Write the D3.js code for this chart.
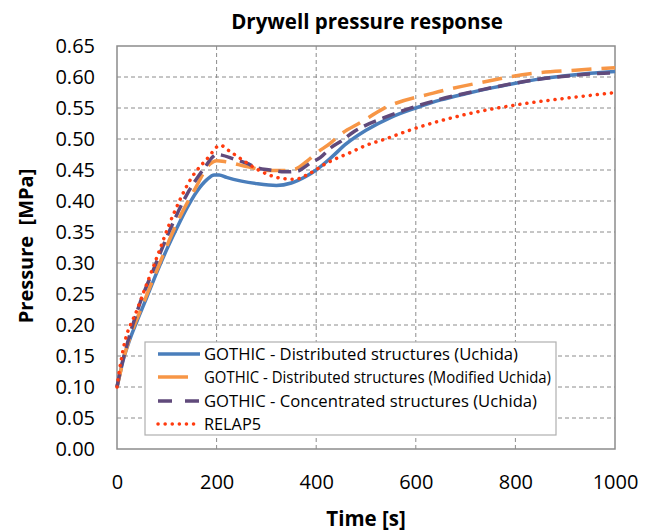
<!DOCTYPE html>
<html><head><meta charset="utf-8">
<script src="https://cdn.jsdelivr.net/npm/d3@7"></script>
<style>
body{margin:0;background:#fff;}
text{font-family:"Open Sans","Liberation Sans",sans-serif;fill:#000;}
</style></head>
<body><svg id="c" width="653" height="532"></svg>
<script>
const xTicks=[0,200,400,600,800,1000];
const yTicks=[0,0.05,0.10,0.15,0.20,0.25,0.30,0.35,0.40,0.45,0.50,0.55,0.60,0.65];
const seriesNames=["GOTHIC - Distributed structures (Uchida)","GOTHIC - Distributed structures (Modified Uchida)","GOTHIC - Concentrated structures (Uchida)","RELAP5"];
const blueT=[0,5,13,25,40,60,80,100,120,140,160,180,195,205,220,250,280,320,350,380,400,430,460,500,550,600,650,700,750,800,850,900,950,1000];
const blueP=[0.100,0.118,0.145,0.175,0.206,0.245,0.285,0.322,0.356,0.388,0.415,0.434,0.442,0.442,0.438,0.432,0.428,0.425,0.429,0.440,0.450,0.470,0.492,0.514,0.535,0.550,0.563,0.573,0.582,0.590,0.597,0.602,0.606,0.609];
const orangeT=[0,5,13,26,53,86,120,157,187,200,220,263,310,340,357,381,400,428,448,490,535,635,736,836,920,1000];
const orangeP=[0.100,0.117,0.145,0.180,0.235,0.300,0.364,0.420,0.460,0.465,0.463,0.455,0.449,0.449,0.451,0.464,0.477,0.493,0.507,0.527,0.549,0.574,0.592,0.606,0.611,0.615];
const purpleT=[0,5,19,46,73,106,140,177,192,200,210,234,260,283,307,337,361,388,408,431,451,474,494,535,635,736,836,936,1000];
const purpleP=[0.100,0.120,0.165,0.235,0.289,0.353,0.410,0.455,0.471,0.475,0.474,0.468,0.461,0.453,0.450,0.447,0.448,0.461,0.470,0.487,0.497,0.511,0.520,0.534,0.561,0.580,0.595,0.604,0.607];
const redT=[0,3,13,40,73,113,147,187,200,207,225,247,284,327,357,388,421,468,501,535,602,702,802,903,990,1000];
const redP=[0.100,0.117,0.163,0.224,0.294,0.378,0.434,0.474,0.487,0.490,0.481,0.469,0.450,0.437,0.435,0.445,0.461,0.478,0.490,0.499,0.518,0.540,0.555,0.566,0.574,0.575];

const svg=d3.select("#c");
const L=117,R=615,T=46,B=449;
const x=d3.scaleLinear().domain([0,1000]).range([L,R]);
const y=d3.scaleLinear().domain([0,0.65]).range([B,T]);

// grid
svg.append("g").selectAll("line").data(yTicks.slice(1,-1)).join("line")
 .attr("x1",L).attr("x2",R).attr("y1",d=>y(d)).attr("y2",d=>y(d))
 .attr("stroke","#8c8c8c").attr("stroke-width",1).attr("stroke-dasharray","4,3");
svg.append("g").selectAll("line").data(xTicks.slice(1,-1)).join("line")
 .attr("y1",T).attr("y2",B).attr("x1",d=>x(d)).attr("x2",d=>x(d))
 .attr("stroke","#8c8c8c").attr("stroke-width",1).attr("stroke-dasharray","4,3");
svg.append("rect").attr("x",L).attr("y",T).attr("width",R-L).attr("height",B-T)
 .attr("fill","none").attr("stroke","#8c8c8c").attr("stroke-width",1.5);

// axes labels via d3 axes
const yAx=svg.append("g").attr("transform",`translate(${L},0)`)
 .call(d3.axisLeft(y).tickValues(yTicks).tickFormat(d3.format(".2f")).tickSize(0).tickPadding(22));
const xAx=svg.append("g").attr("transform",`translate(0,${B})`)
 .call(d3.axisBottom(x).tickValues(xTicks).tickFormat(d3.format("d")).tickSize(0).tickPadding(26));
[yAx,xAx].forEach(g=>{g.select(".domain").remove();g.selectAll("text").attr("font-size",20).attr("font-family","'Open Sans',sans-serif").attr("fill","#000");});

const line=d3.line().x(d=>x(d[0])).y(d=>y(d[1])).curve(d3.curveMonotoneX);
const zip=(a,b)=>a.map((v,i)=>[v,b[i]]);
const styles=[
 {c:"#4a7ebb",w:3.5,dash:null,cap:"butt"},
 {c:"#f79646",w:3.5,dash:"20,10",cap:"butt"},
 {c:"#604a7b",w:3.5,dash:"13,7",cap:"butt"},
 {c:"#ff3b0f",w:3.5,dash:"0.1,7",cap:"round"}];
const data=[zip(blueT,blueP),zip(orangeT,orangeP),zip(purpleT,purpleP),zip(redT,redP)];
data.forEach((d,i)=>{
 svg.append("path").attr("d",line(d)).attr("fill","none").attr("stroke",styles[i].c)
  .attr("stroke-width",styles[i].w).attr("stroke-dasharray",styles[i].dash).attr("stroke-linecap",styles[i].cap);
});

// titles
svg.append("text").attr("x",367).attr("y",29).attr("text-anchor","middle").attr("font-size",20.5).attr("font-weight","bold").text("Drywell pressure response");
svg.append("text").attr("x",366).attr("y",526).attr("text-anchor","middle").attr("font-size",20.5).attr("font-weight","bold").text("Time [s]");
svg.append("text").attr("transform","translate(33,246) rotate(-90)").attr("text-anchor","middle").attr("font-size",20).attr("font-weight","bold").attr("xml:space","preserve").style("white-space","pre").text("Pressure  [MPa]");

// legend
const lg=svg.append("g");
lg.append("rect").attr("x",145).attr("y",342).attr("width",411).attr("height",93).attr("fill","#fff").attr("stroke","#b0b0b0").attr("stroke-width",1.2);
const rowsY=[354,377,401,424];
const sampleX=[[158,200],[158,188],[158,200],[158,200]];
const legDash=[null,null,"14,13","0.1,7"];
const legW=[314,347,333,57];
seriesNames.forEach((n,i)=>{
 lg.append("line").attr("x1",sampleX[i][0]).attr("x2",sampleX[i][1]).attr("y1",rowsY[i]).attr("y2",rowsY[i])
  .attr("stroke",styles[i].c).attr("stroke-width",3.5).attr("stroke-dasharray",legDash[i]).attr("stroke-linecap",styles[i].cap);
 lg.append("text").attr("x",204).attr("y",rowsY[i]+6).attr("font-size",16.3)
  .attr("textLength",legW[i]).attr("lengthAdjust","spacingAndGlyphs").text(n);
});
</script></body></html>
